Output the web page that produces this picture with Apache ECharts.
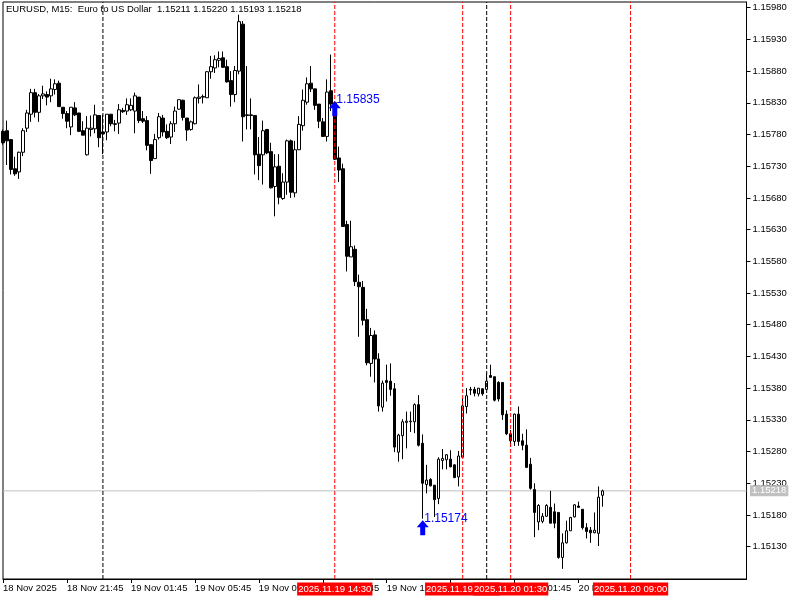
<!DOCTYPE html>
<html><head><meta charset="utf-8">
<style>html,body{margin:0;padding:0;background:#fff}#c{width:800px;height:600px}</style>
<script src="https://cdn.jsdelivr.net/npm/echarts@6/dist/echarts.min.js"></script>
</head><body><div id="c"></div>
<script>
// ---- data ----
const symbolName = 'EURUSD';
const timeframe = 'M15';
const description = 'Euro to US Dollar';
const firstBarTime = '2025.11.18 17:45';
const totalSlots = 187;               // bars + empty space to the right
const xTickLabels = ['18 Nov 2025','18 Nov 21:45','19 Nov 01:45','19 Nov 05:45','19 Nov 09:45','19 Nov 13:45','19 Nov 17:45','19 Nov 21:45','20 Nov 01:45','20 Nov 05:45'];
const yTicks = [1.15130,1.15180,1.15230,1.15280,1.15330,1.15380,1.15430,1.15480,1.15530,1.15580,1.15630,1.15680,1.15730,1.15780,1.15830,1.15880,1.15930,1.15980];
const yMin = 1.15079, yMax = 1.15989;
const opens = [1.15785,1.15786,1.15772,1.15726,1.15721,1.15752,1.15790,1.15812,1.15846,1.15815,1.15841,1.15843,1.15841,1.15851,1.15861,1.15823,1.15813,1.15792,1.15822,1.15814,1.15786,1.15748,1.15788,1.15789,1.15810,1.15784,1.15784,1.15812,1.15797,1.15798,1.15818,1.15817,1.15819,1.15817,1.15839,1.15805,1.15802,1.15764,1.15742,1.15775,1.15806,1.15785,1.15776,1.15797,1.15820,1.15834,1.15806,1.15788,1.15797,1.15837,1.15839,1.15838,1.15879,1.15885,1.15897,1.15901,1.15887,1.15865,1.15843,1.15880,1.15954,1.15811,1.15811,1.15810,1.15749,1.15748,1.15788,1.15753,1.15698,1.15730,1.15679,1.15705,1.15770,1.15688,1.15756,1.15794,1.15831,1.15861,1.15852,1.15828,1.15800,1.15777,1.15849,1.15830,1.15743,1.15726,1.15638,1.15587,1.15599,1.15547,1.15539,1.15488,1.15419,1.15464,1.15426,1.15350,1.15392,1.15391,1.15379,1.15279,1.15305,1.15326,1.15327,1.15327,1.15354,1.15293,1.15228,1.15236,1.15227,1.15206,1.15266,1.15267,1.15268,1.15259,1.15240,1.15271,1.15351,1.15377,1.15378,1.15371,1.15379,1.15378,1.15400,1.15398,1.15389,1.15389,1.15339,1.15308,1.15296,1.15339,1.15297,1.15290,1.15260,1.15220,1.15169,1.15170,1.15178,1.15192,1.15185,1.15184,1.15113,1.15136,1.15155,1.15177,1.15194,1.15189,1.15160,1.15156,1.15152,1.15151,1.15211];
const closes = [1.15767,1.15770,1.15725,1.15718,1.15752,1.15786,1.15814,1.15846,1.15815,1.15841,1.15844,1.15839,1.15852,1.15860,1.15824,1.15813,1.15801,1.15823,1.15811,1.15785,1.15779,1.15790,1.15790,1.15811,1.15775,1.15781,1.15812,1.15797,1.15796,1.15819,1.15816,1.15827,1.15826,1.15841,1.15802,1.15801,1.15763,1.15739,1.15772,1.15808,1.15784,1.15775,1.15797,1.15817,1.15835,1.15807,1.15787,1.15800,1.15838,1.15839,1.15840,1.15879,1.15887,1.15898,1.15900,1.15886,1.15863,1.15843,1.15881,1.15958,1.15808,1.15810,1.15810,1.15748,1.15731,1.15786,1.15751,1.15696,1.15729,1.15681,1.15705,1.15770,1.15689,1.15756,1.15796,1.15834,1.15860,1.15852,1.15826,1.15801,1.15777,1.15847,1.15828,1.15741,1.15724,1.15635,1.15588,1.15603,1.15548,1.15540,1.15487,1.15420,1.15463,1.15426,1.15352,1.15388,1.15389,1.15378,1.15287,1.15306,1.15327,1.15328,1.15328,1.15354,1.15290,1.15230,1.15235,1.15226,1.15204,1.15268,1.15269,1.15275,1.15256,1.15239,1.15273,1.15352,1.15368,1.15378,1.15372,1.15380,1.15371,1.15391,1.15397,1.15361,1.15363,1.15338,1.15308,1.15297,1.15339,1.15296,1.15290,1.15255,1.15222,1.15184,1.15195,1.15178,1.15195,1.15167,1.15167,1.15113,1.15136,1.15155,1.15176,1.15196,1.15192,1.15160,1.15154,1.15152,1.15156,1.15208,1.15218];
const lows = [1.15764,1.15732,1.15717,1.15715,1.15710,1.15746,1.15784,1.15800,1.15807,1.15800,1.15836,1.15826,1.15831,1.15843,1.15824,1.15805,1.15790,1.15779,1.15809,1.15784,1.15779,1.15747,1.15777,1.15782,1.15760,1.15749,1.15771,1.15793,1.15785,1.15781,1.15814,1.15811,1.15817,1.15782,1.15798,1.15798,1.15755,1.15718,1.15742,1.15772,1.15777,1.15773,1.15765,1.15784,1.15819,1.15802,1.15770,1.15786,1.15796,1.15829,1.15829,1.15838,1.15868,1.15877,1.15886,1.15885,1.15862,1.15824,1.15831,1.15875,1.15769,1.15788,1.15788,1.15717,1.15708,1.15701,1.15749,1.15695,1.15651,1.15670,1.15677,1.15685,1.15680,1.15681,1.15756,1.15786,1.15827,1.15847,1.15819,1.15790,1.15776,1.15769,1.15817,1.15740,1.15705,1.15635,1.15564,1.15587,1.15541,1.15461,1.15479,1.15416,1.15398,1.15389,1.15343,1.15343,1.15359,1.15368,1.15279,1.15264,1.15268,1.15285,1.15311,1.15309,1.15288,1.15174,1.15214,1.15225,1.15177,1.15197,1.15252,1.15252,1.15255,1.15238,1.15225,1.15271,1.15340,1.15369,1.15367,1.15367,1.15368,1.15377,1.15397,1.15359,1.15359,1.15330,1.15306,1.15288,1.15289,1.15289,1.15282,1.15255,1.15220,1.15145,1.15156,1.15167,1.15177,1.15167,1.15159,1.15111,1.15095,1.15135,1.15155,1.15176,1.15192,1.15157,1.15143,1.15136,1.15151,1.15131,1.15193];
const highs = [1.15788,1.15802,1.15773,1.15745,1.15753,1.15790,1.15819,1.15852,1.15852,1.15844,1.15857,1.15848,1.15868,1.15867,1.15865,1.15823,1.15817,1.15823,1.15831,1.15814,1.15801,1.15809,1.15810,1.15827,1.15810,1.15811,1.15812,1.15812,1.15803,1.15828,1.15822,1.15837,1.15837,1.15846,1.15839,1.15817,1.15809,1.15764,1.15781,1.15814,1.15811,1.15796,1.15801,1.15824,1.15835,1.15835,1.15806,1.15802,1.15840,1.15859,1.15843,1.15880,1.15904,1.15905,1.15911,1.15911,1.15898,1.15880,1.15888,1.15969,1.15959,1.15888,1.15837,1.15810,1.15776,1.15802,1.15788,1.15767,1.15749,1.15749,1.15719,1.15772,1.15772,1.15770,1.15809,1.15851,1.15870,1.15888,1.15852,1.15828,1.15806,1.15867,1.15906,1.15832,1.15761,1.15734,1.15644,1.15644,1.15605,1.15559,1.15549,1.15505,1.15475,1.15471,1.15435,1.15392,1.15417,1.15419,1.15388,1.15308,1.15331,1.15343,1.15343,1.15356,1.15369,1.15307,1.15259,1.15238,1.15227,1.15271,1.15284,1.15276,1.15282,1.15260,1.15281,1.15364,1.15380,1.15382,1.15382,1.15380,1.15380,1.15404,1.15417,1.15398,1.15391,1.15389,1.15345,1.15314,1.15340,1.15351,1.15308,1.15315,1.15270,1.15230,1.15197,1.15183,1.15197,1.15218,1.15198,1.15184,1.15151,1.15171,1.15177,1.15197,1.15201,1.15189,1.15167,1.15161,1.15184,1.15225,1.15220];
const daySeparators = ['2025.11.19 00:00','2025.11.20 00:00'];
const eventLines = ['2025.11.19 14:30','2025.11.19 22:30','2025.11.20 01:30','2025.11.20 09:00'];
const signalTimes = ['2025.11.19 14:30','2025.11.19 20:00'];
const signalPrices = [1.15835, 1.15174];
const bidPrice = 1.15218;

// ---- build ----
function parseT(s){const m=s.match(/(\d+)\.(\d+)\.(\d+) (\d+):(\d+)/);return Date.UTC(+m[1],+m[2]-1,+m[3],+m[4],+m[5]);}
function fmtT(t){const d=new Date(t),p=n=>String(n).padStart(2,'0');return d.getUTCFullYear()+'.'+p(d.getUTCMonth()+1)+'.'+p(d.getUTCDate())+' '+p(d.getUTCHours())+':'+p(d.getUTCMinutes());}
const t0 = parseT(firstBarTime);
const cats = [];
for (let i=0;i<totalSlots;i++) cats.push(fmtT(t0+i*15*60000));
const nBars = opens.length;
const candles = opens.map((o,i)=>[o, closes[i], lows[i], highs[i]]);
const last = nBars-1;
const header = symbolName+', '+timeframe+':  '+description+'  '+opens[last].toFixed(5)+' '+highs[last].toFixed(5)+' '+lows[last].toFixed(5)+' '+closes[last].toFixed(5);
const FONT = 'Liberation Sans';
const tickShown = i => i%16===0 && i/16 < xTickLabels.length;

const series = [];
// bid line (grey, solid) with price tag on the axis
series.push({type:'line', name:'bid', data:[[cats[0], bidPrice],[cats[totalSlots-1], bidPrice]], symbol:'none', silent:true, z:1,
  lineStyle:{color:'#c0c0c0', width:1, type:'solid'},
  markPoint:{silent:true, animation:false, data:[{coord:[cats[totalSlots-1], bidPrice], symbol:'circle', symbolSize:1, itemStyle:{color:'rgba(0,0,0,0)'},
    label:{show:true, position:'right', distance:3, formatter:bidPrice.toFixed(5), color:'#fff', backgroundColor:'#c0c0c0', padding:[1,2,0,2], fontSize:9.5, fontFamily:FONT}}]}});
// candles
series.push({type:'candlestick', data:candles, barWidth:3, clip:true, silent:true, z:2,
  itemStyle:{color:'#fff', color0:'#000', borderColor:'#000', borderColor0:'#000', borderWidth:1}});
// day separators (black dashed)
daySeparators.forEach(t=>series.push({type:'line', data:[[t, yMin],[t, yMax]], symbol:'none', silent:true, z:3,
  lineStyle:{color:'#000000', width:1, type:[4,2]}}));
// event lines (red dashed) with red time tags under the axis
eventLines.forEach(t=>series.push({type:'line', data:[[t, yMin],[t, yMax]], symbol:'none', silent:true, z:4,
  lineStyle:{color:'#ff0000', width:1, type:[4,2]},
  markPoint:{silent:true, animation:false, data:[{coord:[t, yMin], symbol:'circle', symbolSize:1, itemStyle:{color:'rgba(0,0,0,0)'},
    label:{show:true, position:'bottom', distance:3, formatter:t, color:'#fff', backgroundColor:'#ff0000', padding:[2,1,1,1], fontSize:9.5, fontFamily:FONT}}]}}));
// signal arrows
const arrowPath = 'path://M6,0 L12,7 L8.5,7 L8.5,15 L3.5,15 L3.5,7 L0,7 Z';
const mpData = [];
signalTimes.forEach((t,k)=>{
  mpData.push({coord:[t, signalPrices[k]], symbol:arrowPath, symbolSize:[12,15], symbolOffset:[0,9], itemStyle:{color:'#0000ff'}, label:{show:false}});
  mpData.push({coord:[t, signalPrices[k]], symbol:'circle', symbolSize:1, itemStyle:{color:'rgba(0,0,0,0)'},
    label:{show:true, position:'right', distance:1, formatter:signalPrices[k].toFixed(5), color:'#0000ff', fontSize:12, fontFamily:FONT}});
});
series.push({type:'line', name:'signals', data:[], silent:true, z:5, markPoint:{silent:true, animation:false, data:mpData}});

const chart = echarts.init(document.getElementById('c'), null, {renderer:'canvas'});
chart.setOption({
  animation:false,
  backgroundColor:'#fff',
  title:{text:header, left:6, top:4, padding:0, z:0, textStyle:{fontSize:9.5, fontWeight:'normal', color:'#000', fontFamily:FONT}},
  grid:{left:2.5, right:53.5, top:2, bottom:21, show:true, borderColor:'#000', borderWidth:1, backgroundColor:'#fff'},
  xAxis:{type:'category', data:cats, boundaryGap:false,
    axisLine:{show:true, lineStyle:{color:'#000'}},
    axisTick:{show:true, length:4, interval:(i)=>tickShown(i), lineStyle:{color:'#000'}},
    axisLabel:{show:true, interval:(i)=>tickShown(i), formatter:(v,i)=>xTickLabels[i/16], align:'left', margin:4, color:'#000', fontSize:9.5, fontFamily:FONT},
    splitLine:{show:false}},
  yAxis:{type:'value', position:'right', min:yMin, max:yMax, scale:true,
    axisLine:{show:true, lineStyle:{color:'#000'}},
    axisTick:{show:true, length:4, customValues:yTicks, lineStyle:{color:'#000'}},
    axisLabel:{show:true, customValues:yTicks, formatter:v=>v.toFixed(5), margin:6, color:'#000', fontSize:9.5, fontFamily:FONT},
    splitLine:{show:false}},
  series
});
</script></body></html>
